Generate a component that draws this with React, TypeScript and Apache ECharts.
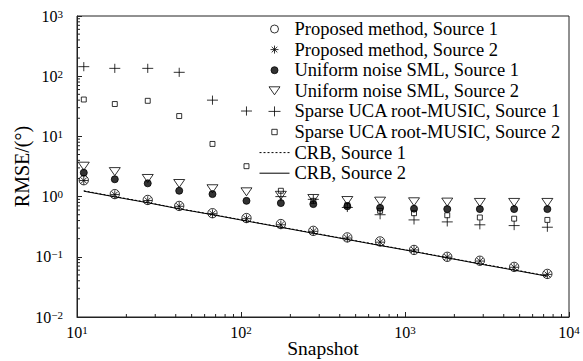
import React, { useEffect, useRef } from 'react';
import * as echarts from 'echarts';

// Snapshot numbers (x axis, log scale)
const snapshots = [11, 17, 27, 42, 67, 108, 175, 276, 445, 705, 1135, 1810, 2860, 4630, 7380];

// RMSE values (degrees)
const proposedS1 = [1.87, 1.1, 0.88, 0.7, 0.53, 0.44, 0.35, 0.27, 0.21, 0.18, 0.13, 0.1, 0.086, 0.068, 0.052];
const proposedS2 = [1.85, 1.08, 0.86, 0.69, 0.52, 0.43, 0.34, 0.265, 0.205, 0.175, 0.13, 0.099, 0.085, 0.067, 0.051];
const uniformS1 = [2.5, 1.94, 1.66, 1.25, 1.1, 0.85, 0.78, 0.75, 0.69, 0.65, 0.63, 0.62, 0.62, 0.62, 0.62];
const uniformS2 = [3.2, 2.6, 2.0, 1.65, 1.35, 1.2, 1.05, 0.93, 0.86, 0.84, 0.82, 0.81, 0.8, 0.8, 0.8];
const sparseS1 = [144, 135, 135, 116, 40, 26.4, 1.0, 0.9, 0.66, 0.5, 0.41, 0.38, 0.34, 0.33, 0.31];
const sparseS2 = [41, 34.5, 39, 21.8, 7.5, 3.2, 1.25, 0.85, 0.72, 0.58, 0.53, 0.49, 0.45, 0.43, 0.41];
const crbS1 = [1.25, 1.0, 0.8, 0.63, 0.505, 0.397, 0.312, 0.249, 0.196, 0.156, 0.123, 0.097, 0.077, 0.061, 0.048];
const crbS2 = [1.23, 0.99, 0.79, 0.625, 0.5, 0.393, 0.309, 0.246, 0.194, 0.154, 0.122, 0.096, 0.076, 0.06, 0.0475];

const seriesNames = [
  'Proposed method, Source 1',
  'Proposed method, Source 2',
  'Uniform noise SML, Source 1',
  'Uniform noise SML, Source 2',
  'Sparse UCA root-MUSIC, Source 1',
  'Sparse UCA root-MUSIC, Source 2',
  'CRB, Source 1',
  'CRB, Source 2',
];

// axis decorations: log minor tick positions
const minorMultipliers = [2, 3, 4, 5, 6, 7, 8, 9];
const xDecades = [10, 100, 1000];
const yDecades = [0.01, 0.1, 1, 10, 100];

const FONT = "'Liberation Serif', 'Times New Roman', serif";

const SYM_CIRCLE = 'path://M0,0M12,12M10,6A4,4,0,1,1,2,6A4,4,0,1,1,10,6Z';
const SYM_ASTER = 'path://M0,0M12,12M2,6L10,6M6,2L6,10M3.2,3.2L8.8,8.8M3.2,8.8L8.8,3.2';
const SYM_DOT = 'path://M0,0M12,12M9.5,6A3.5,3.5,0,1,1,2.5,6A3.5,3.5,0,1,1,9.5,6Z';
const SYM_TRI = 'path://M0,0M12,12M0.5,2L11.5,2L6,10Z';
const SYM_PLUS = 'path://M0,0M12,12M0,6L12,6M6,1L6,11';
const SYM_SQUARE = 'path://M0,0M12,12M3.3,3.3L8.7,3.3L8.7,8.7L3.3,8.7Z';

const pairs = (ys: number[]) => snapshots.map((x, i) => [x, ys[i]]);

const expLabel = (v: number) => {
  const e = Math.round(Math.log10(v));
  const s = e < 0 ? '\u2212' + String(-e) : String(e);
  return `{b|10}{s|${s}}`;
};

const richLabel = {
  b: { fontFamily: FONT, fontSize: 16, color: '#000', lineHeight: 16, padding: [3, 0, 0, 0], verticalAlign: 'bottom' },
  s: { fontFamily: FONT, fontSize: 11, color: '#000', lineHeight: 11, verticalAlign: 'top' },
};

function scatter(name: string, data: number[], symbol: string, size: number, fill: string) {
  return {
    name,
    type: 'scatter',
    data: pairs(data),
    symbol,
    symbolSize: size,
    symbolKeepAspect: true,
    itemStyle: { color: fill, borderColor: '#000', borderWidth: 1 },
    z: 5,
  };
}

export default function App() {
  const ref = useRef<HTMLDivElement>(null);
  useEffect(() => {
    const chart = echarts.init(ref.current!, null, { renderer: 'svg' });
    const xMinor: number[][] = [];
    xDecades.forEach((d) => minorMultipliers.forEach((m) => xMinor.push([d * m, 0.01])));
    const yMinor: number[][] = [];
    yDecades.forEach((d) => minorMultipliers.forEach((m) => yMinor.push([10, d * m])));

    const legendData = seriesNames.map((n, i) =>
      i >= 6 ? { name: n, itemStyle: { opacity: 0 } } : { name: n }
    );

    const option: any = {
      animation: false,
      backgroundColor: '#fff',
      textStyle: { fontFamily: FONT },
      grid: {
        left: 77, top: 16, right: 14, bottom: 44,
        outerBoundsMode: 'none',
        containLabel: false,
        show: true, borderColor: '#222', borderWidth: 1, backgroundColor: 'transparent',
      },
      legend: {
        data: legendData,
        orient: 'vertical',
        left: 259,
        top: 19,
        padding: 0,
        itemGap: 0.6,
        itemWidth: 30,
        itemHeight: 12,
        selectedMode: false,
        itemStyle: { borderWidth: 1 },
        lineStyle: { width: 1 },
        textStyle: { fontFamily: FONT, fontSize: 18.5, color: '#000', lineHeight: 20 },
      },
      xAxis: {
        type: 'log',
        logBase: 10,
        min: 10,
        max: 10000,
        name: 'Snapshot',
        nameLocation: 'middle',
        nameGap: 21,
        nameMoveOverlap: false,
        nameTextStyle: { fontFamily: FONT, fontSize: 19.5, color: '#000' },
        axisLine: { lineStyle: { color: '#222', width: 1 } },
        axisTick: { inside: true, length: 5, lineStyle: { color: '#222' } },
        splitLine: { show: false },
        axisLabel: { formatter: expLabel, rich: richLabel, margin: 7, color: '#000' },
      },
      yAxis: {
        type: 'log',
        logBase: 10,
        min: 0.01,
        max: 1000,
        name: 'RMSE/(\u00b0)',
        nameLocation: 'middle',
        nameRotate: 90,
        nameGap: 45,
        nameMoveOverlap: false,
        nameTextStyle: { fontFamily: FONT, fontSize: 20, color: '#000' },
        axisLine: { lineStyle: { color: '#222', width: 1 } },
        axisTick: { inside: true, length: 5, lineStyle: { color: '#222' } },
        splitLine: { show: false },
        axisLabel: { formatter: expLabel, rich: richLabel, margin: 14, color: '#000' },
      },
      series: [
        {
          name: seriesNames[6],
          type: 'line',
          data: pairs(crbS1),
          symbol: 'none',
          lineStyle: { color: '#000', width: 1, type: [2, 2] },
          itemStyle: { color: '#000' },
          z: 3,
        },
        {
          name: seriesNames[7],
          type: 'line',
          data: pairs(crbS2),
          symbol: 'none',
          lineStyle: { color: '#000', width: 1 },
          itemStyle: { color: '#000' },
          z: 3,
        },
        scatter(seriesNames[0], proposedS1, SYM_CIRCLE, 14, 'rgba(255,255,255,0)'),
        scatter(seriesNames[1], proposedS2, SYM_ASTER, 13, '#000'),
        scatter(seriesNames[2], uniformS1, SYM_DOT, 12, '#000'),
        scatter(seriesNames[3], uniformS2, SYM_TRI, 12, 'rgba(255,255,255,0)'),
        scatter(seriesNames[4], sparseS1, SYM_PLUS, 11, '#000'),
        scatter(seriesNames[5], sparseS2, SYM_SQUARE, 11, 'rgba(255,255,255,0)'),
        {
          type: 'custom',
          silent: true,
          clip: false,
          data: xMinor,
          z: 6,
          renderItem: (params: any, api: any) => {
            const p = api.coord([api.value(0), 0.01]);
            return {
              type: 'line',
              shape: { x1: p[0], y1: p[1], x2: p[0], y2: p[1] - 3 },
              style: { stroke: '#222', lineWidth: 1 },
            };
          },
        },
        {
          type: 'custom',
          silent: true,
          clip: false,
          data: yMinor,
          z: 6,
          renderItem: (params: any, api: any) => {
            const p = api.coord([10, api.value(1)]);
            return {
              type: 'line',
              shape: { x1: p[0], y1: p[1], x2: p[0] + 3, y2: p[1] },
              style: { stroke: '#222', lineWidth: 1 },
            };
          },
        },
      ],
    };
    chart.setOption(option);
    return () => chart.dispose();
  }, []);
  return (
    <div
      ref={ref}
      style={{ position: 'fixed', left: 0, top: 0, width: 583, height: 361, background: '#fff' }}
    />
  );
}
